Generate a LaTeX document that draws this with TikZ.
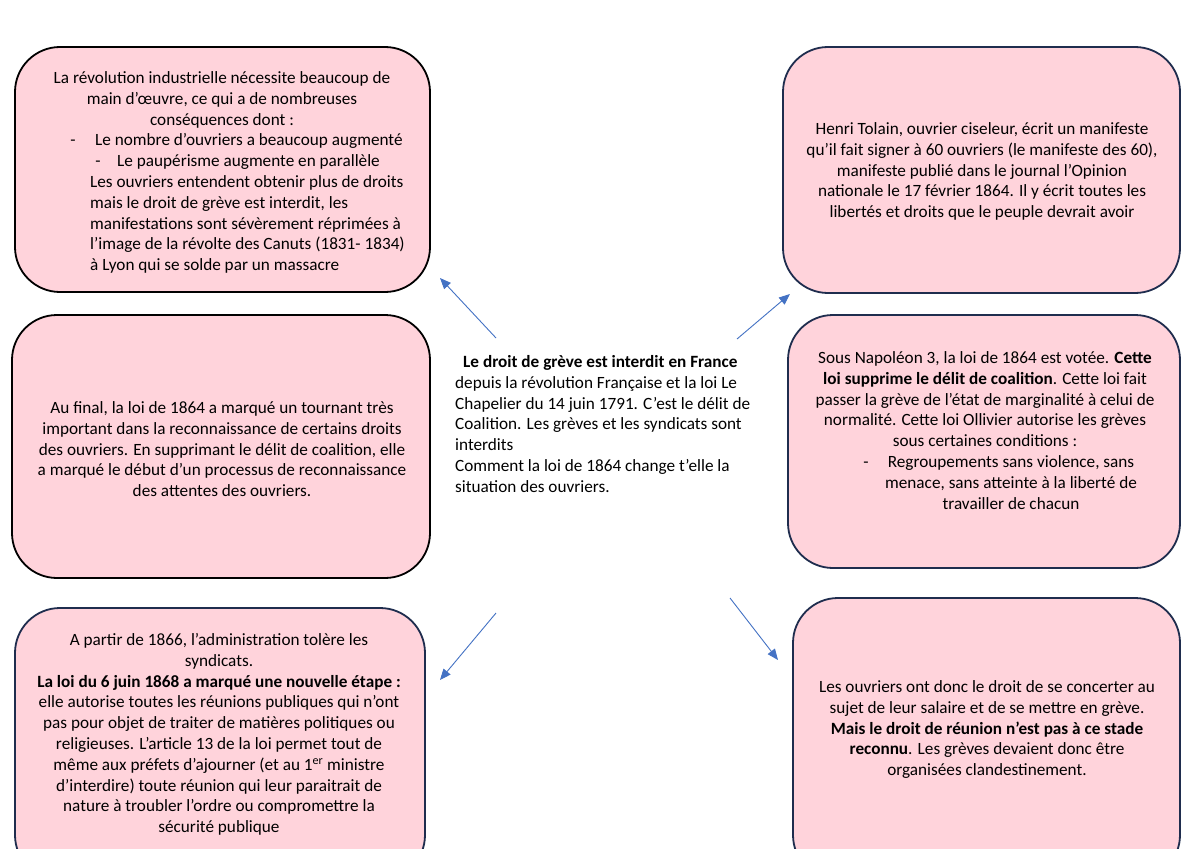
\documentclass[tikz,border=0pt]{standalone}
\usepackage{fontspec}
\setmainfont{Carlito}
\usetikzlibrary{arrows.meta}
\definecolor{boxpink}{RGB}{255,211,219}
\definecolor{navy}{RGB}{31,45,78}
\definecolor{arrowblue}{RGB}{68,114,196}
\begin{document}
\begin{tikzpicture}[x=1bp,y=-1bp,
  txt/.style={inner sep=0pt, font=\fontsize{17.2bp}{20.8bp}\selectfont},
  box/.style={draw=navy, line width=1.8bp, fill=boxpink, rounded corners=45bp, inner sep=0pt},
  conn/.style={draw=arrowblue, line width=0.9bp, -{Triangle[length=11bp,width=9bp]}}]
\clip (0,0) rectangle (1200,849);
\fill[white] (0,0) rectangle (1200,849);
% boxes
\node[box, draw=black, minimum width=415bp, minimum height=245bp] (tl) at (222.5,169.5) {};
\node[box, draw=black, minimum width=418bp, minimum height=263bp] (ml) at (221,446.5) {};
\node[box, minimum width=410bp, minimum height=272bp] (bl) at (220,744) {};
\node[box, minimum width=397bp, minimum height=246bp] (tr) at (981.5,170) {};
\node[box, minimum width=392bp, minimum height=253bp] (mr) at (984,441.5) {};
\node[box, minimum width=387bp, minimum height=282bp] (br) at (986.5,739) {};
% top-left text
\foreach \t [count=\i from 0] in {{La révolution industrielle nécessite beaucoup de},{main d’œuvre, ce qui a de nombreuses},{conséquences dont :}}
  \node[txt, anchor=base] (tla\i) at (222,83.5+20.8*\i) {\t};
\node[txt, anchor=base] (tld1) at (73,145.9) {-};
\node[txt, anchor=base west] (tlb1) at (95,145.9) {Le nombre d’ouvriers a beaucoup augmenté};
\node[txt, anchor=base] (tld2) at (98,166.7) {-};
\node[txt, anchor=base west] (tlb2) at (117,166.7) {Le paupérisme augmente en parallèle};
\foreach \t [count=\i from 0] in {{Les ouvriers entendent obtenir plus de droits},{mais le droit de grève est interdit, les},{manifestations sont sévèrement réprimées à},{l’image de la révolte des Canuts (1831- 1834)},{à Lyon qui se solde par un massacre}}
  \node[txt, anchor=base west] (tlc\i) at (90,187.5+20.8*\i) {\t};
% mid-left text
\foreach \t [count=\i from 0] in {{Au final, la loi de 1864 a marqué un tournant très},{important dans la reconnaissance de certains droits},{des ouvriers. En supprimant le délit de coalition, elle},{a marqué le début d’un processus de reconnaissance},{des attentes des ouvriers.}}
  \node[txt, anchor=base] (mlt\i) at (222,413.5+20.8*\i) {\t};
% bottom-left text
\foreach \t [count=\i from 0] in {{A partir de 1866, l’administration tolère les},{syndicats.},{\textbf{La loi du 6 juin 1868 a marqué une nouvelle étape :}},{elle autorise toutes les réunions publiques qui n’ont},{pas pour objet de traiter de matières politiques ou},{religieuses. L’article 13 de la loi permet tout de},{même aux préfets d’ajourner (et au 1\textsuperscript{er} ministre},{d’interdire) toute réunion qui leur paraitrait de},{nature à troubler l’ordre ou compromettre la},{sécurité publique}}
  \node[txt, anchor=base] (blt\i) at (219,645.5+20.8*\i) {\t};
% centre text
\node[txt, anchor=base west] (c0) at (463,367.5) {\textbf{Le droit de grève est interdit en France}};
\foreach \t [count=\i from 1] in {{depuis la révolution Française et la loi Le},{Chapelier du 14 juin 1791. C’est le délit de},{Coalition. Les grèves et les syndicats sont},{interdits},{Comment la loi de 1864 change t’elle la},{situation des ouvriers.}}
  \node[txt, anchor=base west] (c\i) at (455,367.5+20.8*\i) {\t};
% top-right text
\foreach \t [count=\i from 0] in {{Henri Tolain, ouvrier ciseleur, écrit un manifeste},{qu’il fait signer à 60 ouvriers (le manifeste des 60),},{manifeste publié dans le journal l’Opinion},{nationale le 17 février 1864. Il y écrit toutes les},{libertés et droits que le peuple devrait avoir}}
  \node[txt, anchor=base] (trt\i) at (982,134.5+20.8*\i) {\t};
% mid-right text
\foreach \t [count=\i from 0] in {{Sous Napoléon 3, la loi de 1864 est votée. \textbf{Cette}},{\textbf{loi supprime le délit de coalition}. Cette loi fait},{passer la grève de l’état de marginalité à celui de},{normalité. Cette loi Ollivier autorise les grèves},{sous certaines conditions :}}
  \node[txt, anchor=base] (mrt\i) at (985,363.5+20.8*\i) {\t};
\node[txt, anchor=base] (mrd) at (866,467.5) {-};
\foreach \t [count=\i from 0] in {{Regroupements sans violence, sans},{menace, sans atteinte à la liberté de},{travailler de chacun}}
  \node[txt, anchor=base] (mrl\i) at (1011,467.5+20.8*\i) {\t};
% bottom-right text
\foreach \t [count=\i from 0] in {{Les ouvriers ont donc le droit de se concerter au},{sujet de leur salaire et de se mettre en grève.},{\textbf{Mais le droit de réunion n’est pas à ce stade}},{\textbf{reconnu}. Les grèves devaient donc être},{organisées clandestinement.}}
  \node[txt, anchor=base] (brt\i) at (987,692.5+20.8*\i) {\t};
% connectors
\coordinate (a1s) at (496,338); \coordinate (a1e) at (440,278);
\coordinate (a2s) at (737,339); \coordinate (a2e) at (790,294);
\coordinate (a3s) at (496,613); \coordinate (a3e) at (440,680);
\coordinate (a4s) at (730,598); \coordinate (a4e) at (778,660);
\draw[conn] (a1s) -- (a1e);
\draw[conn] (a2s) -- (a2e);
\draw[conn] (a3s) -- (a3e);
\draw[conn] (a4s) -- (a4e);
\end{tikzpicture}
\end{document}
